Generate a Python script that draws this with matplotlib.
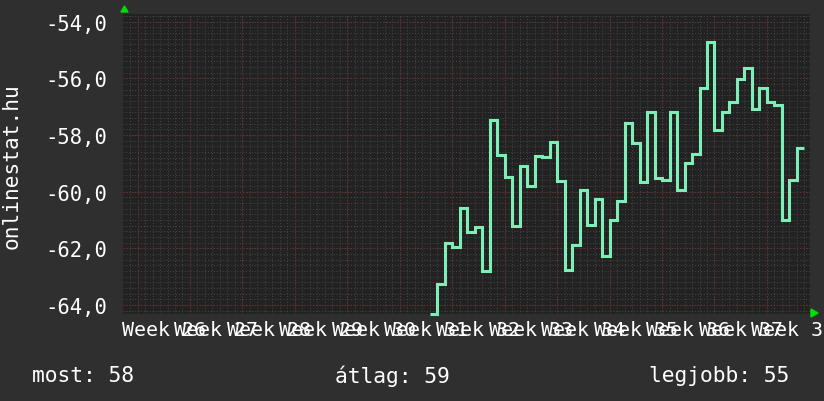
import numpy as np
import matplotlib
matplotlib.use("Agg")
import matplotlib.pyplot as plt

# napi ertekek (onlinestat.hu), a 31. het 5. napjatol
start_week = 31 + 4 / 7
values = [-64.32, -63.26, -61.81, -61.94, -60.57, -61.41, -61.25, -62.79, -57.47, -58.71,
          -59.47, -61.23, -59.10, -59.79, -58.73, -58.77, -58.24, -59.62, -62.75, -61.88,
          -59.94, -61.17, -60.27, -62.26, -60.99, -60.33, -57.59, -58.28, -59.66, -57.18,
          -59.52, -59.59, -57.18, -59.94, -58.99, -58.66, -56.33, -54.71, -57.81, -57.18,
          -56.83, -56.01, -55.64, -57.08, -56.34, -56.83, -56.94, -61.00, -59.59, -58.45]
weeks = list(range(26, 39))
y_ticks = [-64, -62, -60, -58, -56, -54]
summary = ["most: 58", "átlag: 59", "legjobb: 55"]

BG = "#2f2f2f"
PLOT_BG = "#222222"
LINE = "#7ceeb6"
FONT = "DejaVu Sans Mono"

fig = plt.figure(figsize=(8.24, 4.02), dpi=100, facecolor=BG)
ax = fig.add_axes([123 / 824, 87 / 402, 687 / 824, 300 / 402])
ax.set_facecolor(PLOT_BG)

x_lo, x_hi = 25.723, 38.821
ax.set_xlim(x_lo, x_hi)
ax.set_ylim(-64.32, -53.73)

# racs
dots = (0, (1, 2))
for d in np.arange(np.ceil(x_lo * 7) / 7, x_hi, 1 / 7):
    ax.axvline(d, color="#474747", lw=0.7, ls=dots, zorder=1)
for v in np.arange(-64.2, -53.7, 0.2):
    ax.axhline(v, color="#474747", lw=0.7, ls=dots, zorder=1)
for w in weeks:
    ax.axvline(w, color="#6e2a2a", lw=0.8, ls=dots, zorder=2)
for v in y_ticks:
    ax.axhline(v, color="#6e2a2a", lw=0.8, ls=dots, zorder=2)

edges = start_week + np.arange(len(values) + 1) / 7
ax.stairs(values, edges, color=LINE, lw=2.2, baseline=None, zorder=3, clip_on=False)

for s in ax.spines.values():
    s.set_visible(False)
ax.set_xticks([])
ax.set_yticks(y_ticks)
ax.set_yticklabels([f"{v:.1f}".replace(".", ",") for v in y_ticks],
                   fontsize=14.8, family=FONT, color="white")
ax.tick_params(axis="y", length=0, pad=11)

for w in weeks:
    ax.text(w + 0.5, -64.32 - 6 / 28.35, f"Week {w}",
            ha="center", va="top", fontsize=14.4, family=FONT, color="white",
            clip_on=False)

fig.text(12 / 824, 1 - 166 / 402, "onlinestat.hu", rotation=90, ha="center", va="center",
         fontsize=15.2, family=FONT, color="white")

fig.text(32 / 824, 1 - 376 / 402, summary[0], ha="left", va="center",
         fontsize=15.3, family=FONT, color="white")
fig.text(335 / 824, 1 - 376 / 402, summary[1], ha="left", va="center",
         fontsize=15.3, family=FONT, color="white")
fig.text(649 / 824, 1 - 376 / 402, summary[2], ha="left", va="center",
         fontsize=15.3, family=FONT, color="white")

# zold nyilak
fig.patches.append(plt.Polygon([[121 / 824, 1 - 13 / 402], [128 / 824, 1 - 13 / 402],
                                [124.5 / 824, 1 - 7 / 402]], closed=True,
                               transform=fig.transFigure, color="#00e000"))
fig.patches.append(plt.Polygon([[811 / 824, 1 - 310 / 402], [811 / 824, 1 - 318 / 402],
                                [818 / 824, 1 - 314 / 402]], closed=True,
                               transform=fig.transFigure, color="#00e000"))

fig.savefig("out.png", dpi=100, facecolor=BG)
